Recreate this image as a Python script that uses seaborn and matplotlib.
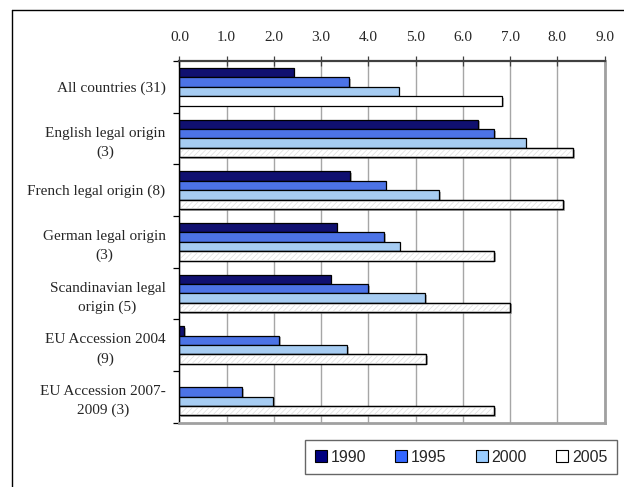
import numpy as np
import pandas as pd
import matplotlib
matplotlib.use("Agg")
import matplotlib.pyplot as plt
import matplotlib.patheffects as pe
from matplotlib.lines import Line2D
from matplotlib.patches import Rectangle
import seaborn as sns

# Group labels (number of countries in brackets)
groups = [
    "All countries (31)",
    "English legal origin\n(3)",
    "French legal origin (8)",
    "German legal origin\n(3)",
    "Scandinavian legal\norigin (5)",
    "EU Accession 2004\n(9)",
    "EU Accession 2007-\n2009 (3)",
]
years = ["1990", "1995", "2000", "2005"]

v1990 = [2.42, 6.33, 3.62, 3.33, 3.20, 0.10, np.nan]
v1995 = [3.59, 6.66, 4.37, 4.33, 4.00, 2.11, 1.33]
v2000 = [4.64, 7.33, 5.50, 4.66, 5.20, 3.55, 1.99]
v2005 = [6.83, 8.34, 8.12, 6.66, 7.00, 5.22, 6.66]

x_ticks = [0.0, 1.0, 2.0, 3.0, 4.0, 5.0, 6.0, 7.0, 8.0, 9.0]

colors = {"1990": "#000080", "1995": "#3366FF", "2000": "#99CCFF", "2005": "#FFFFFF"}

rows = []
for yr, vals in zip(years, [v1990, v1995, v2000, v2005]):
    for g, v in zip(groups, vals):
        rows.append({"group": g, "year": yr, "value": v})
df = pd.DataFrame(rows)

sns.set_theme(style="white")
plt.rcParams["font.family"] = ["Liberation Serif", "DejaVu Serif"]
plt.rcParams["hatch.linewidth"] = 0.5
plt.rcParams["hatch.color"] = "#dedede"

fig = plt.figure(figsize=(6.24, 4.87), dpi=100)
ax = fig.add_axes([0.2875, 0.1324, 0.6813, 0.7423])

sns.barplot(
    data=df, y="group", x="value", hue="year",
    order=groups, hue_order=years, palette=colors,
    orient="h", width=0.727, errorbar=None,
    edgecolor="#000000", linewidth=0.9, legend=False, ax=ax,
)

shadow = [pe.SimplePatchShadow(offset=(1.2, -1.2), shadow_rgbFace="#808080", alpha=0.6), pe.Normal()]

n = len(groups)
for p in ax.patches:
    p.set_path_effects(shadow)

# 2005 bars: faint diagonal hatch laid over the white bar, then the outline again
for p in ax.patches[3 * n:4 * n]:
    if np.isnan(p.get_width()):
        continue
    z = p.get_zorder()
    hatch = Rectangle(p.get_xy(), p.get_width(), p.get_height(), fill=False,
                      hatch="//////", edgecolor="#dedede", linewidth=0, zorder=z + 0.05)
    if hasattr(hatch, "set_hatchcolor"):
        hatch.set_hatchcolor("#dedede")
    ax.add_patch(hatch)
    ax.add_patch(Rectangle(p.get_xy(), p.get_width(), p.get_height(), fill=False,
                           edgecolor="#000000", linewidth=0.9, zorder=z + 0.1))

ax.set_xlim(0, 9)
ax.set_ylim(n - 0.5, -0.5)
ax.set_xticks(x_ticks)
ax.set_xticklabels([f"{t:.1f}" for t in x_ticks], fontsize=11)
ax.xaxis.set_ticks_position("top")
ax.xaxis.set_label_position("top")
ax.tick_params(axis="x", direction="inout", length=7, width=0.9, color="#404040", pad=9, top=True, bottom=False)
ax.grid(axis="x", color="#a6a6a6", linewidth=1.0)
ax.set_axisbelow(True)

# category labels with tick marks on the group boundaries
ax.set_yticks(range(n))
ax.set_yticklabels(groups, fontsize=11, multialignment="center", linespacing=1.55)
ax.set_yticks(np.arange(-0.5, n, 1.0), minor=True)
ax.tick_params(axis="y", which="major", length=0, pad=10)
ax.tick_params(axis="y", which="minor", direction="out", length=4, width=0.9, color="#000000", left=True)

ax.set_xlabel("")
ax.set_ylabel("")

ax.spines["left"].set_color("#000000")
ax.spines["left"].set_linewidth(1.0)
ax.spines["top"].set_color("#404040")
ax.spines["top"].set_linewidth(1.6)
ax.spines["right"].set_color("#a0a0a0")
ax.spines["right"].set_linewidth(2.0)
ax.spines["bottom"].set_color("#a0a0a0")
ax.spines["bottom"].set_linewidth(2.0)

# legend
handles = []
for yr in years:
    handles.append(Rectangle((0, 0), 1, 1, facecolor=colors[yr], edgecolor="#000000", linewidth=0.8))
leg = fig.legend(
    handles, years, loc="center", ncol=4, mode="expand",
    bbox_to_anchor=(0.4888, 0.0205, 0.5, 0.0822),
    prop={"family": ["Liberation Sans", "DejaVu Sans"], "size": 11.5},
    frameon=True, fancybox=False, edgecolor="#404040",
    handlelength=0.75, handleheight=0.75, handletextpad=0.25,
    borderaxespad=0, borderpad=0.6,
)
leg.get_frame().set_linewidth(1.0)

# chart frame along the top and left
fig.add_artist(Line2D([12 / 624, 1.0], [1 - 10 / 487, 1 - 10 / 487], color="#000000", linewidth=1.0))
fig.add_artist(Line2D([12 / 624, 12 / 624], [0.0, 1 - 10 / 487], color="#000000", linewidth=1.0))

fig.savefig("out.png", dpi=100)
